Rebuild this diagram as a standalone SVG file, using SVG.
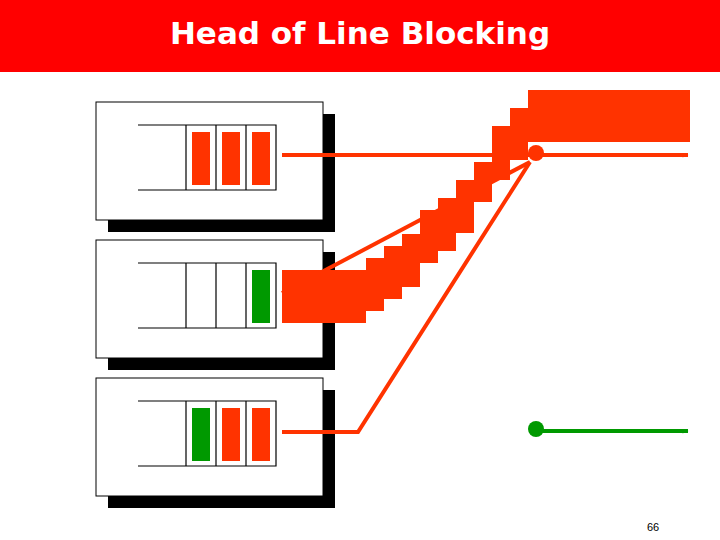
<svg xmlns="http://www.w3.org/2000/svg" width="720" height="540" viewBox="0 0 720 540">
<style>
.box{fill:#fff;stroke:#000;stroke-width:1}
.sh{fill:#000}
.q{fill:none;stroke:#000;stroke-width:1.2}
.r{fill:#ff3300}
.g{fill:#009900}
.ln{fill:none;stroke:#ff3300;stroke-width:4}
.gl{fill:none;stroke:#009900;stroke-width:4}
</style>
<defs>
<marker id="ar" viewBox="0 0 12 10" refX="11" refY="5" markerWidth="7" markerHeight="5" orient="auto" markerUnits="userSpaceOnUse"><path d="M0,0 L12,5 L0,10 L3,5 Z" fill="#ff3300"/></marker>
<marker id="ag" viewBox="0 0 12 10" refX="11" refY="5" markerWidth="7" markerHeight="5" orient="auto" markerUnits="userSpaceOnUse"><path d="M0,0 L12,5 L0,10 L3,5 Z" fill="#009900"/></marker>
</defs>
<rect x="0" y="0" width="720" height="72" fill="#ff0000"/>
<text x="360" y="44" text-anchor="middle" font-family="'DejaVu Sans',sans-serif" font-weight="bold" font-size="31" fill="#fff">Head of Line Blocking</text>
<g id="input1">
<rect class="sh" x="108" y="114" width="227" height="118"/>
<rect class="box" x="96" y="102" width="227" height="118"/>
<path class="q" d="M138,125H276V190H138M186,125V190M216,125V190M246,125V190"/>
<rect class="r" x="192" y="132" width="18" height="53"/><rect class="r" x="222" y="132" width="18" height="53"/><rect class="r" x="252" y="132" width="18" height="53"/>
</g>
<g id="input2">
<rect class="sh" x="108" y="252" width="227" height="118"/>
<rect class="box" x="96" y="240" width="227" height="118"/>
<path class="q" d="M138,263H276V328H138M186,263V328M216,263V328M246,263V328"/>
<rect class="g" x="252" y="270" width="18" height="53"/>
</g>
<g id="input3">
<rect class="sh" x="108" y="390" width="227" height="118"/>
<rect class="box" x="96" y="378" width="227" height="118"/>
<path class="q" d="M138,401H276V466H138M186,401V466M216,401V466M246,401V466"/>
<rect class="g" x="192" y="408" width="18" height="53"/><rect class="r" x="222" y="408" width="18" height="53"/><rect class="r" x="252" y="408" width="18" height="53"/>
</g>
<g id="connectors">
<path class="ln" d="M282,155H536"/>
<path class="ln" d="M536,155H688" marker-end="url(#ar)"/>
<path class="ln" d="M282,293L530,162"/>
<path class="ln" d="M282,432H358L530,162"/>
<circle cx="536" cy="153" r="8" fill="#ff3300"/>
<path class="gl" d="M536,431H688" marker-end="url(#ag)"/>
<circle cx="536" cy="429" r="8" fill="#009900"/>
</g>
<g id="blocked-packet" fill="#ff3300">
<rect x="282" y="270" width="84" height="53"/>
<rect x="366" y="258" width="18" height="53"/>
<rect x="384" y="246" width="18" height="53"/>
<rect x="402" y="234" width="18" height="53"/>
<rect x="420" y="210" width="18" height="53"/>
<rect x="438" y="198" width="18" height="53"/>
<rect x="456" y="180" width="18" height="53"/>
<rect x="474" y="162" width="18" height="40"/>
<rect x="492" y="126" width="18" height="54"/>
<rect x="510" y="108" width="18" height="52"/>
<rect x="528" y="90" width="162" height="52"/>
</g>
<text x="653" y="531" text-anchor="middle" font-family="'Liberation Sans',sans-serif" font-size="11">66</text>
</svg>
